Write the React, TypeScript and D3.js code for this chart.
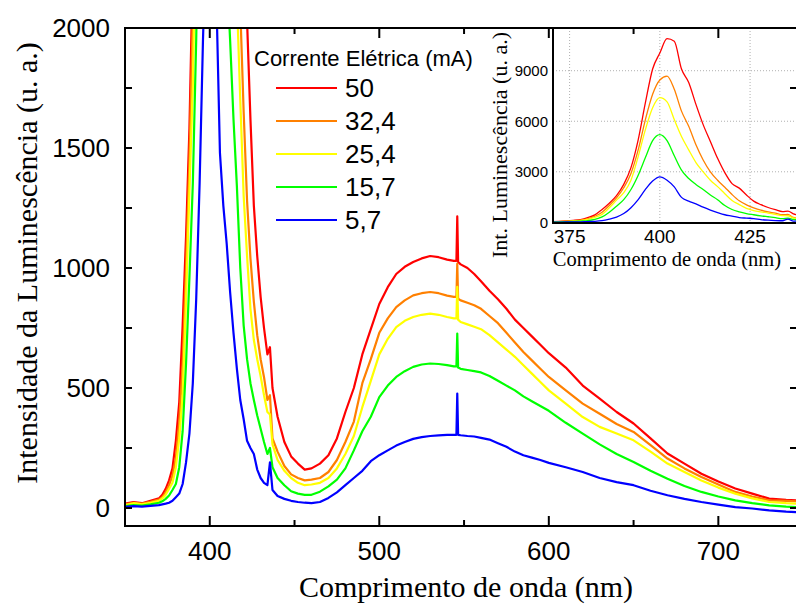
import React from 'react';
import * as d3 from 'd3';

// Wavelength grid (nm)
const wavelengths = [
  350, 355, 360, 365, 370,
  372, 374, 376, 378, 380, 382, 384, 386, 388, 390,
  392, 394, 396, 398, 400, 402, 404, 406, 408, 410,
  412, 414, 416, 418, 420, 422, 424, 426, 428, 430,
  432, 434, 435.5, 437, 440, 444, 448, 452, 456, 460,
  465, 470, 475, 480, 485, 490, 495, 500, 505, 510,
  515, 520, 525, 530, 535, 540, 544, 545.5, 546, 546.5,
  548, 552, 556, 560, 565, 570, 575, 580, 585, 590,
  595, 600, 610, 620, 630, 640, 650, 660, 670, 680,
  690, 700, 710, 720, 730, 740, 746,
];

const current50 = [
  18, 25, 20, 30, 40,
  55, 80, 115, 165, 280, 440, 760, 1130, 1580, 2250,
  3250, 4900, 7100, 9100, 10050, 10900, 10750, 9100, 8300, 7000,
  5800, 4800, 3800, 2950, 2300, 2030, 1620, 1260, 1050, 880,
  750, 640, 670, 500, 380, 275, 215, 185, 160, 165,
  185, 220, 290, 400, 500, 640, 745, 850, 920, 975,
  1005, 1025, 1040, 1050, 1045, 1035, 1030, 1030, 1215, 1025,
  1015, 1000, 975, 945, 905, 870, 830, 785, 750, 715,
  680, 645, 585, 510, 456, 400, 352, 290, 227, 185,
  143, 110, 81, 60, 39, 34, 32,
];

const current32 = [
  15, 22, 18, 26, 35,
  45, 65, 95, 135, 210, 360, 600, 1000, 1450, 2050,
  2900, 4300, 6100, 7600, 8450, 8680, 7900, 6600, 5700, 4600,
  3700, 3000, 2500, 2080, 1650, 1280, 1040, 860, 720, 620,
  545, 450, 470, 290, 235, 175, 140, 125, 115, 118,
  125, 150, 200, 275, 360, 520, 620, 730, 790, 837,
  865, 886, 895, 900, 895, 885, 880, 880, 1018, 872,
  865, 855, 845, 830, 800, 770, 730, 690, 650, 615,
  580, 546, 490, 435, 393, 350, 317, 262, 206, 165,
  129, 98, 67, 48, 32, 30, 28,
];

const current25 = [
  12, 20, 15, 22, 30,
  40, 55, 80, 105, 170, 290, 470, 865, 1320, 1760,
  2500, 3900, 5500, 6800, 7400, 7150, 6100, 5100, 4300, 3550,
  3000, 2500, 2120, 1700, 1300, 1050, 830, 700, 620, 550,
  470, 400, 390, 265, 200, 155, 125, 105, 95, 98,
  105, 125, 165, 225, 300, 420, 530, 640, 705, 754,
  780, 796, 805, 810, 805, 796, 790, 790, 921, 785,
  775, 765, 755, 745, 720, 690, 660, 630, 595, 560,
  525, 490, 435, 379, 338, 310, 282, 235, 185, 150,
  115, 85, 60, 40, 25, 20, 18,
];

const current15 = [
  8, 12, 10, 15, 22,
  28, 38, 52, 75, 100, 170, 320, 600, 960, 1350,
  1950, 2800, 3850, 4850, 5200, 4850, 3950, 3100, 2600, 2250,
  1950, 1620, 1340, 1000, 760, 620, 520, 450, 385, 330,
  275, 225, 250, 170, 125, 95, 70, 60, 55, 55,
  68, 90, 118, 165, 240, 320, 380, 462, 510, 546,
  570, 588, 598, 602, 600, 595, 590, 590, 727, 585,
  580, 575, 570, 565, 550, 530, 510, 490, 465, 445,
  425, 405, 355, 310, 265, 225, 192, 155, 122, 92,
  67, 48, 32, 20, 11, 6, 4,
];

const current5 = [
  5, 8, 6, 9, 12,
  15, 18, 22, 30, 45, 60, 100, 190, 310, 520,
  870, 1350, 1950, 2450, 2700, 2500, 2100, 1480, 1260, 1100,
  900, 730, 580, 450, 370, 280, 250, 225, 160, 125,
  105, 95, 190, 75, 50, 38, 30, 25, 22, 20,
  25, 42, 65, 95, 125, 155, 195, 220, 240, 260,
  275, 288, 295, 300, 303, 305, 305, 305, 477, 305,
  303, 300, 298, 292, 285, 270, 255, 235, 220, 210,
  200, 188, 170, 150, 125, 108, 95, 72, 53, 38,
  25, 14, 4, -2, -10, -15, -17,
];

const seriesNames = ['50', '32,4', '25,4', '15,7', '5,7'];
const seriesColors = ['#ff0000', '#ff8000', '#ffff00', '#00ff00', '#0000ff'];
const seriesValues = [current50, current32, current25, current15, current5];

const mainXMajor = [400, 500, 600, 700];
const mainXMinor = [450, 550, 650];
const mainYMajor = [0, 500, 1000, 1500, 2000];
const mainYMinor = [250, 750, 1250, 1750];
const insetXTicks = [375, 400, 425];
const insetYTicks = [0, 3000, 6000, 9000];
const insetYGrid = [3000, 6000, 9000];

const SANS = '"Liberation Sans", Arial, sans-serif';
const SERIF = '"Liberation Serif", "Times New Roman", serif';

export default function App() {
  const W = 796, H = 604;
  const L = 125, R = 797, T = 28, B = 526;
  const x = d3.scaleLinear().domain([350, 746.4]).range([L, R]);
  const y = d3.scaleLinear().domain([-75, 2000]).range([B, T]);

  const iL = 553, iR = 797, iT = 28, iB = 223;
  const ix = d3.scaleLinear().domain([370.4, 438]).range([iL, iR]);
  const iy = d3.scaleLinear().domain([-40, 11535]).range([iB, iT]);

  const data = seriesValues.map((vals) => wavelengths.map((w, i) => [w, vals[i]] as [number, number]));

  const mainLine = d3.line<[number, number]>().x((d) => x(d[0])).y((d) => y(d[1]));
  const insetLine = d3
    .line<[number, number]>()
    .x((d) => ix(d[0]))
    .y((d) => iy(d[1]))
    .curve(d3.curveMonotoneX);

  const legendX1 = 276, legendX2 = 337, legendY0 = 88, legendDy = 33;

  return (
    <div style={{ position: 'absolute', left: 0, top: 0 }}>
      <svg width={W} height={H} style={{ display: 'block', background: '#fff' }}>
        <defs>
          <clipPath id="mainClip">
            <rect x={L} y={T} width={R - L} height={B - T} />
          </clipPath>
          <clipPath id="insetClip">
            <rect x={iL} y={iT} width={iR - iL} height={iB - iT} />
          </clipPath>
        </defs>

        {/* main curves */}
        <g clipPath="url(#mainClip)">
          {data.map((d, i) => (
            <path key={i} d={mainLine(d) || ''} fill="none" stroke={seriesColors[i]} strokeWidth={2.2} strokeLinejoin="round" />
          ))}
        </g>

        {/* inset */}
        <rect x={iL} y={iT} width={iR - iL} height={iB - iT} fill="#fff" />
        {insetXTicks.map((t) => (
          <line key={'igx' + t} x1={ix(t)} x2={ix(t)} y1={iT} y2={iB} stroke="#b0b0b0" strokeWidth={1} strokeDasharray="1,2" />
        ))}
        {insetYGrid.map((t) => (
          <line key={'igy' + t} x1={iL} x2={iR} y1={iy(t)} y2={iy(t)} stroke="#b0b0b0" strokeWidth={1} strokeDasharray="1,2" />
        ))}
        <g clipPath="url(#insetClip)">
          {data.map((d, i) => (
            <path key={i} d={insetLine(d.filter((p) => p[0] >= 368 && p[0] <= 446)) || ''} fill="none" stroke={seriesColors[i]} strokeWidth={1.3} />
          ))}
        </g>
        <line x1={iL} x2={iL} y1={iT} y2={iB + 1} stroke="#000" strokeWidth={2} />
        <line x1={iL - 1} x2={iR} y1={iB} y2={iB} stroke="#000" strokeWidth={2} />
        {insetXTicks.map((t) => (
          <text key={'ixl' + t} x={ix(t)} y={243} textAnchor="middle" fontFamily={SANS} fontSize={19} fill="#000">
            {t}
          </text>
        ))}
        {insetYTicks.map((t) => (
          <text key={'iyl' + t} x={548} y={iy(t) + 5.5} textAnchor="end" fontFamily={SANS} fontSize={15} fill="#000">
            {t}
          </text>
        ))}
        <text x={667} y={266} textAnchor="middle" fontFamily={SERIF} fontSize={20.5} fill="#000">
          Comprimento de onda (nm)
        </text>
        <text
          transform={`translate(507,145) rotate(-90)`}
          textAnchor="middle"
          fontFamily={SERIF}
          fontSize={22}
          fill="#000"
        >
          Int. Luminescência (u. a.)
        </text>

        {/* main frame */}
        <rect x={L} y={T} width={R - L} height={B - T} fill="none" stroke="#000" strokeWidth={2} />
        {mainXMajor.map((t) => (
          <g key={'xM' + t}>
            <line x1={x(t)} x2={x(t)} y1={B} y2={B - 10} stroke="#000" strokeWidth={2} />
            <line x1={x(t)} x2={x(t)} y1={T} y2={T + 10} stroke="#000" strokeWidth={2} />
          </g>
        ))}
        {mainXMinor.map((t) => (
          <g key={'xm' + t}>
            <line x1={x(t)} x2={x(t)} y1={B} y2={B - 6} stroke="#000" strokeWidth={2} />
            <line x1={x(t)} x2={x(t)} y1={T} y2={T + 6} stroke="#000" strokeWidth={2} />
          </g>
        ))}
        {[...mainYMajor, ...mainYMinor].map((t) => (
          <g key={'y' + t}>
            <line x1={L} x2={L + 7} y1={y(t)} y2={y(t)} stroke="#000" strokeWidth={2} />
            <line x1={R} x2={R - 7} y1={y(t)} y2={y(t)} stroke="#000" strokeWidth={2} />
          </g>
        ))}

        {/* tick labels */}
        {mainXMajor.map((t) => (
          <text key={'xl' + t} x={x(t)} y={560} textAnchor="middle" fontFamily={SANS} fontSize={26} fill="#000">
            {t}
          </text>
        ))}
        {mainYMajor.map((t) => (
          <text key={'yl' + t} x={110} y={y(t) + 9.3} textAnchor="end" fontFamily={SANS} fontSize={26} fill="#000">
            {t}
          </text>
        ))}

        {/* axis titles */}
        <text x={466} y={597} textAnchor="middle" fontFamily={SERIF} fontSize={30} fill="#000">
          Comprimento de onda (nm)
        </text>
        <text transform={`translate(37,263) rotate(-90)`} textAnchor="middle" fontFamily={SERIF} fontSize={30} fill="#000">
          Intensidade da Luminescência (u. a.)
        </text>

        {/* legend */}
        <text x={254} y={66} fontFamily={SANS} fontSize={22} fill="#000">
          Corrente Elétrica (mA)
        </text>
        {seriesNames.map((n, i) => (
          <g key={'lg' + n}>
            <line x1={legendX1} x2={legendX2} y1={legendY0 + i * legendDy} y2={legendY0 + i * legendDy} stroke={seriesColors[i]} strokeWidth={2} />
            <text x={345} y={legendY0 + i * legendDy + 9.3} fontFamily={SANS} fontSize={26} fill="#000">
              {n}
            </text>
          </g>
        ))}
      </svg>
    </div>
  );
}
